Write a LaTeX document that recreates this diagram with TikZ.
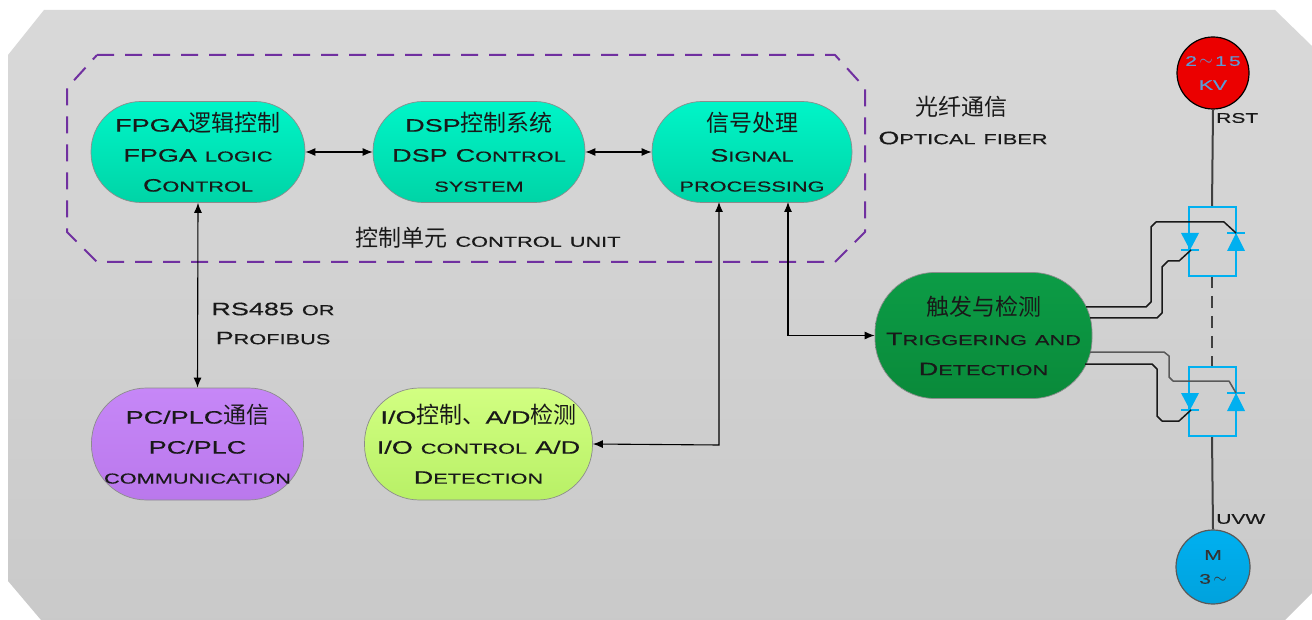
\documentclass[tikz,border=0pt]{standalone}
\usepackage{fontspec}
\setmainfont{Liberation Sans}
\newfontfamily\widefont[FakeStretch=1.5,FakeBold=0.35]{Liberation Sans}
\newfontfamily\cjk{Noto Sans CJK SC}
\usetikzlibrary{arrows.meta,calc}
\newcommand{\capt}[1]{{\widefont\fontsize{18}{18}\selectfont #1}}
\newcommand{\lc}[1]{{\widefont\fontsize{14.5}{14.5}\selectfont\MakeUppercase{#1}}}
\newcommand{\zh}[1]{{\cjk\fontsize{23}{23}\selectfont #1}}
\newcommand{\gap}{\hspace{8pt}}
\definecolor{tealtop}{HTML}{00F5C8}
\definecolor{tealbot}{HTML}{00D4A6}
\definecolor{purp}{HTML}{7030A0}
\definecolor{cyanb}{HTML}{00B0F0}
\definecolor{gtop}{HTML}{0C9C46}
\definecolor{gbot}{HTML}{0A8A3A}
\definecolor{ptop}{HTML}{C687F7}
\definecolor{pbot}{HTML}{BA78EC}
\definecolor{ltop}{HTML}{D2FF82}
\definecolor{lbot}{HTML}{B8F066}
\definecolor{volt}{HTML}{5B9BD5}
\tikzset{
  pill/.style={draw=black!45,line width=.7pt,rectangle,inner sep=0pt,align=center,text=black!90,font=\fontsize{14}{30}\selectfont},
  tealpill/.style={pill,top color=tealtop,bottom color=tealbot,minimum width=#1,minimum height=101,rounded corners=50},
  biarrow/.style={{Latex[length=10,width=8]}-{Latex[length=10,width=8]},line width=1.1pt,black},
  wire/.style={line width=1.5pt,black!90},
  feed/.style={line width=2pt,black!75},
  scrbox/.style={line width=2.2pt,cyanb},
  diode/.style={fill=cyanb,draw=none},
  dbar/.style={line width=1.6pt,cyanb},
  lab/.style={inner sep=0pt,align=center,text=black!90,font=\fontsize{14}{29}\selectfont},
  ball/.style={circle,inner sep=0pt,align=center,font=\fontsize{14}{24}\selectfont\widefont},
}
\begin{document}
\begin{tikzpicture}[x=1pt,y=-1pt]
\useasboundingbox (0,0) rectangle (1312,620);
% panel
\shade[top color=black!15,bottom color=black!21]
  (44,10) -- (1275,10) -- (1312,46) -- (1312,593) -- (1285,620) -- (41,620) -- (8,581) -- (8,55) -- cycle;
% control-unit outline
\draw[purp,line width=2pt,dash pattern=on 17pt off 11pt,line join=round]
  (97,55) -- (835,55) -- (865,88) -- (865,232) -- (835,262) -- (97,262) -- (67,232) -- (67,88) -- cycle;
% nodes
\node[tealpill=214] (fpga) at (198,152) {\zh{\capt{FPGA}逻辑控制}\\\capt{FPGA}\gap\lc{logic}\\\capt{C}\lc{ontrol}};
\node[tealpill=212] (dsp) at (479,152) {\zh{\capt{DSP}控制系统}\\\capt{DSP}\gap\capt{C}\lc{ontrol}\\\lc{system}};
\node[tealpill=200] (sig) at (752,152) {\zh{信号处理}\\\capt{S}\lc{ignal}\\\lc{processing}};
\node[pill,top color=gtop,bottom color=gbot,minimum width=217,minimum height=126,rounded corners=60] (trg) at (983.5,335.5)
  {\zh{触发与检测}\\\capt{T}\lc{riggering}\gap\lc{and}\\\capt{D}\lc{etection}};
\node[pill,top color=ptop,bottom color=pbot,minimum width=212,minimum height=112,rounded corners=55] (pc) at (197.5,444)
  {\zh{\capt{PC/PLC}通信}\\\capt{PC/PLC}\\\lc{communication}};
\node[pill,top color=ltop,bottom color=lbot,minimum width=228,minimum height=112,rounded corners=55] (io) at (478.5,444)
  {\zh{\capt{I/O}控制、\capt{A/D}检测}\\\capt{I/O}\gap\lc{control}\gap\capt{A/D}\\\capt{D}\lc{etection}};
% free labels
\node[lab] (fibzh) at (961,107) {\zh{光纤通信}};
\node[lab] (fiben) at (963,138) {\capt{O}\lc{ptical}\gap\lc{fiber}};
\node[lab] (cu) at (488,238) {\zh{控制单元}\gap\lc{control}\gap\lc{unit}};
\node[lab] (rs) at (273,323.5) {\capt{RS485}\gap\lc{or}\\\capt{P}\lc{rofibus}};
% circuits
\node[ball,draw=black,line width=1.2pt,fill=red!92!black,minimum size=72,text=volt] (src) at (1213,73)
  {2\,{\fontsize{17}{17}\selectfont$\sim$}\,1\,5\\KV};
\node[ball,draw=black!65,line width=1.2pt,top color=cyanb,bottom color=cyanb!92!black,minimum size=74,text=black!80] (mot) at (1213,567)
  {M\\3\,{\fontsize{17}{17}\selectfont$\sim$}};
\node[lab,anchor=west,font=\fontsize{14}{14}\selectfont\widefont] (rst) at (1216,118) {RST};
\node[lab,anchor=west,font=\fontsize{14}{14}\selectfont\widefont] (uvw) at (1216,519) {UVW};
% thyristor boxes
\coordinate (t1) at (1212,207); \coordinate (b1) at (1212,276);
\coordinate (t2) at (1212,367); \coordinate (b2) at (1212,436);
\draw[feed] (src.south) -- (t1);
\draw[feed,dash pattern=on 12pt off 8pt] (b1) -- (t2);
\draw[feed] (b2) -- (mot.north);
\foreach \y/\k in {207/a,367/b}{
  \draw[scrbox,line join=miter] (1189,\y) rectangle (1236,\y+69);
  \fill[diode] (1181,\y+26) -- (1199,\y+26) -- (1190,\y+43) -- cycle;
  \draw[dbar] (1181,\y+43) -- (1199,\y+43);
  \fill[diode] (1227,\y+44) -- (1245,\y+44) -- (1236,\y+26) -- cycle;
  \draw[dbar] (1227,\y+26) -- (1245,\y+26);
}
% gate wires
\coordinate (g1) at (1086,307); \coordinate (g2) at (1090,318);
\coordinate (g3) at (1090,352); \coordinate (g4) at (1085,364);
\draw[wire,line join=round] (g1) -- (1146,307) -- (1151,302) -- (1151,227) -- (1156,222) -- (1224,222) -- (1236,233);
\draw[wire,line join=round] (g2) -- (1157,318) -- (1162,313) -- (1162,267) -- (1168,261) -- (1179,261) -- (1191,250);
\draw[wire,black!65,line join=round] (g3) -- (1164,352) -- (1169,356) -- (1169,377) -- (1173,381) -- (1229,381) -- (1236,393);
\draw[wire,line join=round] (g4) -- (1152,364) -- (1157,369) -- (1157,416) -- (1162,421) -- (1179,421) -- (1191,410);
% connectors
\draw[biarrow] (fpga.east) -- (dsp.west);
\draw[biarrow] (dsp.east) -- (sig.west);
\draw[biarrow] (fpga.south) -- (pc.north);
\coordinate (sa) at (719,202); \coordinate (sb) at (788,202);
\coordinate (ioc) at (719,445); \coordinate (trc) at (788,335.5);
\draw[biarrow] (io.east) -- (ioc) -- (sa);
\draw[biarrow] (sb) -- (trc) -- (trg.west);
\end{tikzpicture}
\end{document}
